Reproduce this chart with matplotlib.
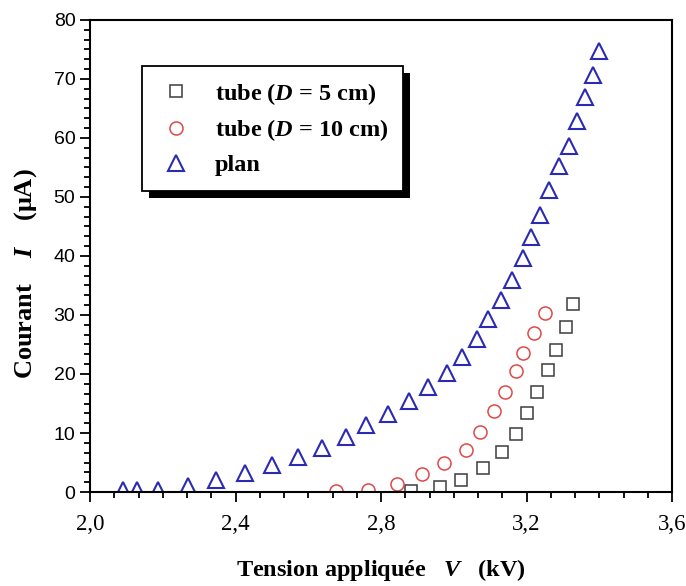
import matplotlib
matplotlib.use("Agg")
import matplotlib.pyplot as plt
import matplotlib.patheffects as pe
from matplotlib.ticker import MultipleLocator, AutoMinorLocator, FuncFormatter

plt.rcParams['mathtext.fontset'] = 'custom'
plt.rcParams['mathtext.rm'] = 'Liberation Serif:bold'
plt.rcParams['mathtext.it'] = 'Liberation Serif:italic:bold'

# tube D = 5 cm
V_tube5 = [2.882, 2.962, 3.021, 3.081, 3.132, 3.170, 3.201, 3.230, 3.260, 3.280, 3.309, 3.329]
I_tube5 = [0.2, 0.8, 2.0, 4.1, 6.7, 9.9, 13.4, 17.0, 20.7, 24.1, 27.9, 31.8]

# tube D = 10 cm
V_tube10 = [2.675, 2.765, 2.843, 2.914, 2.973, 3.033, 3.072, 3.112, 3.142, 3.171, 3.191, 3.220, 3.251]
I_tube10 = [0.2, 0.4, 1.3, 3.0, 4.9, 7.1, 10.2, 13.8, 17.0, 20.5, 23.5, 27.0, 30.4]

# plan
V_plan = [2.091, 2.129, 2.187, 2.269, 2.346, 2.427, 2.499, 2.571, 2.637, 2.704,
          2.758, 2.820, 2.877, 2.928, 2.981, 3.022, 3.063, 3.095, 3.131, 3.161,
          3.190, 3.213, 3.237, 3.263, 3.289, 3.316, 3.340, 3.360, 3.383, 3.400]
I_plan = [0.4, 0.4, 0.4, 1.1, 2.0, 3.3, 4.6, 5.9, 7.4, 9.3,
          11.3, 13.3, 15.5, 17.8, 20.2, 22.9, 26.0, 29.3, 32.6, 36.0,
          39.6, 43.2, 47.0, 51.2, 55.2, 58.7, 62.8, 66.9, 70.6, 74.7]

labels = ['tube ($D$ = 5 cm)', 'tube ($D$ = 10 cm)', 'plan']

fig = plt.figure(figsize=(6.86, 5.86), dpi=100)
ax = fig.add_axes([0.1312, 0.1604, 0.8484, 0.8055])

ax.plot(V_tube5, I_tube5, ls='none', marker='s', ms=8.6, mfc='none',
        mec='#3c3c3c', mew=1.1, label=labels[0])
ax.plot(V_tube10, I_tube10, ls='none', marker='o', ms=9.4, mfc='none',
        mec='#e04848', mew=1.1, label=labels[1])
ax.plot(V_plan, I_plan, ls='none', marker='^', ms=11, mfc='none',
        mec='#2a2ab4', mew=1.5, label=labels[2])

ax.set_xlim(2.0, 3.6)
ax.set_ylim(0, 80)
ax.xaxis.set_major_locator(MultipleLocator(0.4))
ax.xaxis.set_minor_locator(AutoMinorLocator(6))
ax.yaxis.set_major_locator(MultipleLocator(10))
ax.yaxis.set_minor_locator(AutoMinorLocator(6))
ax.xaxis.set_major_formatter(FuncFormatter(lambda v, p: f"{v:.1f}".replace('.', ',')))

for s in ax.spines.values():
    s.set_linewidth(1.5)
ax.tick_params(which='both', direction='out', width=1.3, top=False, right=False)
ax.tick_params(which='major', length=7)
ax.tick_params(which='minor', length=4)
ax.tick_params(axis='x', pad=9)
for t in ax.get_xticklabels():
    t.set_fontfamily('Liberation Serif')
    t.set_fontsize(16.5)
for t in ax.get_yticklabels():
    t.set_fontfamily('Liberation Sans')
    t.set_fontsize(14)

ax.set_xlabel('Tension appliquée   $V$   (kV)', family='Liberation Serif',
              weight='bold', fontsize=17.5, labelpad=16)
ax.set_ylabel('Courant    $I$    (μA)', family='Liberation Serif',
              weight='bold', fontsize=19)
ax.yaxis.set_label_coords(-0.087, 0.463)

leg = ax.legend(loc='upper left', bbox_to_anchor=(0.0893, 0.9025), borderaxespad=0,
                fancybox=False, edgecolor='black', framealpha=1,
                prop={'family': 'Liberation Serif', 'weight': 'bold', 'size': 17.5},
                handletextpad=0.8, labelspacing=0.45, borderpad=0.6, handlelength=1.6)
leg.get_frame().set_linewidth(1.3)
leg.get_frame().set_path_effects([pe.SimplePatchShadow(offset=(5, -5), shadow_rgbFace='k', alpha=1),
                                  pe.Normal()])

fig.savefig('out.png', dpi=100)
